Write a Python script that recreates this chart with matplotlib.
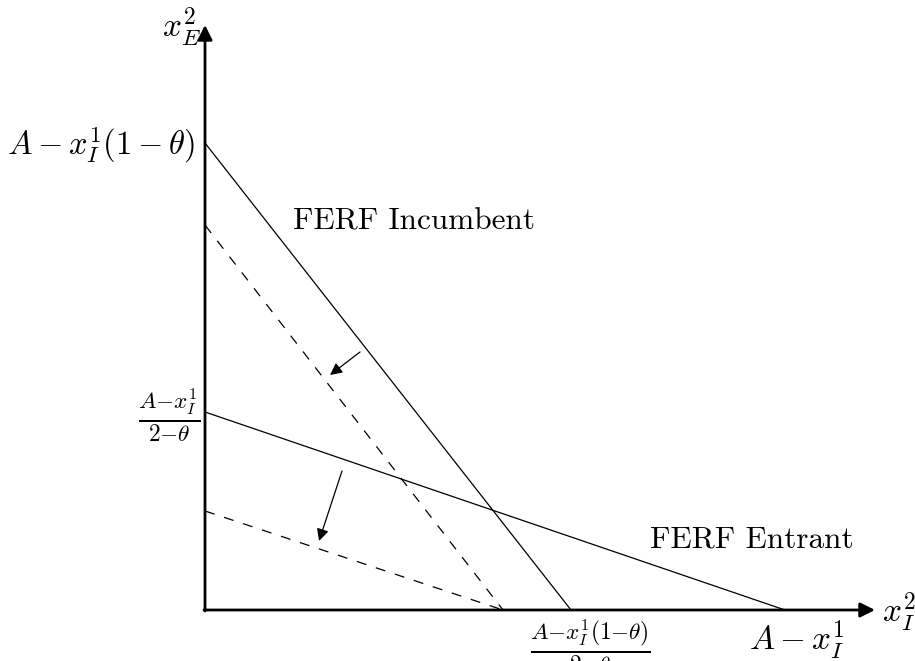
import matplotlib
matplotlib.use('Agg')
import matplotlib.pyplot as plt

plt.rcParams['mathtext.fontset'] = 'cm'

# intercepts (y-intercept, x-intercept) of each reaction function
incumbent = (4.67, 3.66)
entrant = (1.98, 5.80)
incumbent_new = (3.85, 2.98)
entrant_new = (0.99, 2.98)

# shift arrows: (start, end)
shift_arrows = [((1.55, 2.58), (1.25, 2.35)),
                ((1.37, 1.39), (1.14, 0.69))]

x_axis_end = 6.70
y_axis_end = 5.85

fig = plt.figure(figsize=(9.15, 6.61), dpi=100)
ax = fig.add_axes([0, 0, 1, 1])
ax.set_xlim(-2.05, 7.10)
ax.set_ylim(-0.51, 6.10)
ax.axis('off')

# axes with arrows
ax.annotate('', xy=(x_axis_end, 0), xytext=(-0.01, 0),
            arrowprops=dict(arrowstyle='-|>', lw=2, color='black',
                            mutation_scale=22, shrinkA=0, shrinkB=0))
ax.annotate('', xy=(0, y_axis_end), xytext=(0, -0.01),
            arrowprops=dict(arrowstyle='-|>', lw=2, color='black',
                            mutation_scale=22, shrinkA=0, shrinkB=0))

# solid lines
for b, c in [incumbent, entrant]:
    ax.plot([0, c], [b, 0], color='black', lw=0.9)
# dashed lines
for b, c in [incumbent_new, entrant_new]:
    ax.plot([0, c], [b, 0], color='black', lw=0.9, linestyle=(0, (8, 8)))

for start, end in shift_arrows:
    ax.annotate('', xy=end, xytext=start,
                arrowprops=dict(arrowstyle='-|>', lw=0.9, color='black',
                                mutation_scale=18, shrinkA=0, shrinkB=0))

# labels
ax.text(-0.04, 5.83, r'$x_E^2$', fontsize=24, ha='right', va='center')
ax.text(-0.10, incumbent[0] - 0.02, r'$A - x_I^1(1-\theta)$', fontsize=23.5,
        ha='right', va='center')
ax.text(-0.05, entrant[0] - 0.03, r'$\frac{A{-}x_I^1}{2{-}\theta}$', fontsize=24,
        ha='right', va='center')
ax.text(incumbent[1] + 0.19, -0.07, r'$\frac{A{-}x_I^1(1{-}\theta)}{2{-}\theta}$',
        fontsize=24, ha='center', va='top')
ax.text(entrant[1] + 0.12, -0.30, r'$A - x_I^1$', fontsize=24,
        ha='center', va='center')
ax.text(x_axis_end + 0.07, -0.02, r'$x_I^2$', fontsize=24, ha='left', va='center')

ax.text(0.88, 3.88, 'FERF Incumbent', fontsize=22.5, family='cmr10',
        ha='left', va='center')
ax.text(4.45, 0.70, 'FERF Entrant', fontsize=22.5, family='cmr10',
        ha='left', va='center')

fig.savefig('out.png', dpi=100)
